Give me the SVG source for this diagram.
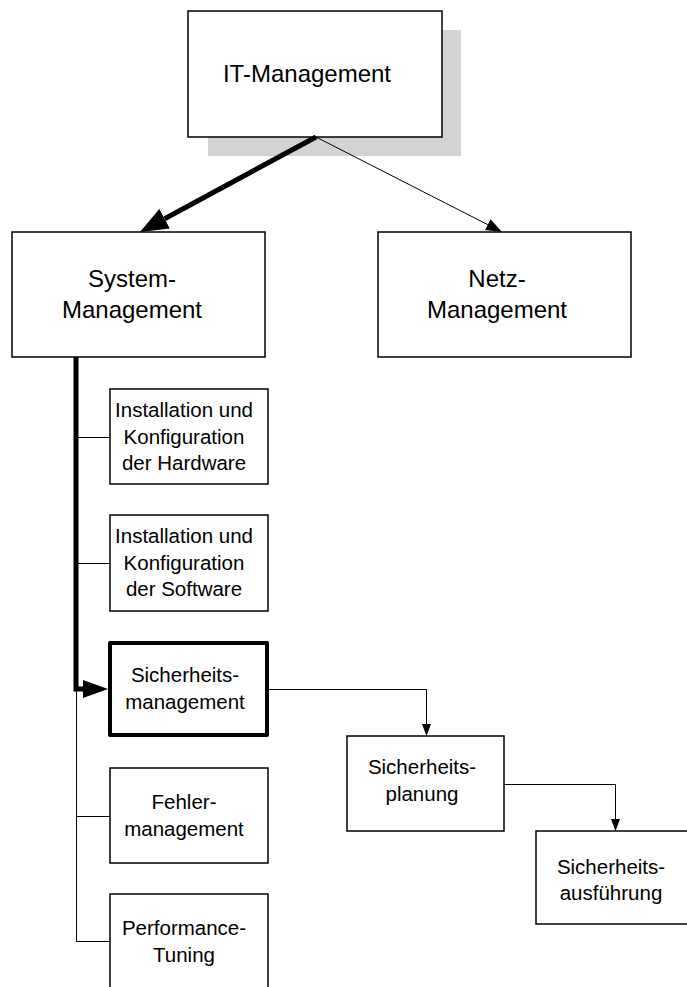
<svg xmlns="http://www.w3.org/2000/svg" width="687" height="987" viewBox="0 0 687 987">
  <style>
    .box { fill: #fff; stroke: #000; stroke-width: 1.5; }
    .bold { fill: #fff; stroke: #000; stroke-width: 4; stroke-linejoin: round; }
    .shadow { fill: #d3d3d3; stroke: none; }
    .lbl { font-family: "Liberation Sans", Arial, sans-serif; font-size: 20.5px; fill: #000; text-anchor: middle; }
    .big { font-size: 24px; }
    .thin { fill: none; stroke: #000; stroke-width: 1; }
    .thick { fill: none; stroke: #000; stroke-width: 5; stroke-linejoin: miter; }
  </style>
  <defs>
    <marker id="headL" markerUnits="userSpaceOnUse" viewBox="0 -12 28 24" refX="0" refY="0" markerWidth="28" markerHeight="24" orient="auto">
      <path d="M0,-11 L28,0 L0,11 z" fill="#000"/>
    </marker>
    <marker id="headM" markerUnits="userSpaceOnUse" viewBox="0 -10 26 20" refX="0" refY="0" markerWidth="26" markerHeight="20" orient="auto">
      <path d="M0,-9 L25,0 L0,9 z" fill="#000"/>
    </marker>
    <marker id="headS" markerUnits="userSpaceOnUse" viewBox="0 -7 17 14" refX="0" refY="0" markerWidth="17" markerHeight="14" orient="auto">
      <path d="M0,-6 L16,0 L0,6 z" fill="#000"/>
    </marker>
    <marker id="headT" markerUnits="userSpaceOnUse" viewBox="0 -5 13 10" refX="0" refY="0" markerWidth="13" markerHeight="10" orient="auto">
      <path d="M0,-4.5 L12,0 L0,4.5 z" fill="#000"/>
    </marker>
  </defs>

  <g id="it-management">
    <rect class="shadow" x="208" y="30" width="253" height="126"/>
    <rect class="box" x="188" y="11" width="254" height="126"/>
    <text class="lbl big" x="307" y="82">IT-Management</text>
  </g>

  <g id="system-management">
    <rect class="box" x="12" y="232" width="253" height="125"/>
    <text class="lbl big" x="132" y="287">System-</text>
    <text class="lbl big" x="132" y="318">Management</text>
  </g>

  <g id="netz-management">
    <rect class="box" x="378" y="232" width="253" height="125"/>
    <text class="lbl big" x="497" y="287">Netz-</text>
    <text class="lbl big" x="497" y="318">Management</text>
  </g>

  <g id="hardware">
    <rect class="box" x="110" y="389" width="158" height="95"/>
    <text class="lbl" x="184" y="417">Installation und</text>
    <text class="lbl" x="184" y="444">Konfiguration</text>
    <text class="lbl" x="184" y="470">der Hardware</text>
  </g>

  <g id="software">
    <rect class="box" x="110" y="515" width="158" height="96"/>
    <text class="lbl" x="184" y="543">Installation und</text>
    <text class="lbl" x="184" y="570">Konfiguration</text>
    <text class="lbl" x="184" y="596">der Software</text>
  </g>

  <g id="sicherheitsmanagement">
    <rect class="bold" x="110" y="643" width="157" height="92"/>
    <text class="lbl" x="185" y="682">Sicherheits-</text>
    <text class="lbl" x="185" y="709">management</text>
  </g>

  <g id="fehlermanagement">
    <rect class="box" x="110" y="768" width="158" height="95"/>
    <text class="lbl" x="184" y="809">Fehler-</text>
    <text class="lbl" x="184" y="836">management</text>
  </g>

  <g id="performance-tuning">
    <rect class="box" x="110" y="894" width="158" height="96"/>
    <text class="lbl" x="184" y="935">Performance-</text>
    <text class="lbl" x="184" y="962">Tuning</text>
  </g>

  <g id="sicherheitsplanung">
    <rect class="box" x="347" y="736" width="157" height="95"/>
    <text class="lbl" x="422" y="774">Sicherheits-</text>
    <text class="lbl" x="422" y="801">planung</text>
  </g>

  <g id="sicherheitsausfuehrung">
    <rect class="box" x="536" y="831" width="158" height="93"/>
    <text class="lbl" x="611" y="874">Sicherheits-</text>
    <text class="lbl" x="611" y="900">ausführung</text>
  </g>

  <!-- connectors, drawn above the node shadow -->
  <g id="connectors">
    <!-- IT-Management to System-Management (highlighted path) -->
    <path class="thick" d="M316,137 L164.6,218.7" marker-end="url(#headL)"/>
    <!-- IT-Management to Netz-Management -->
    <path class="thin" d="M316,137 L487.8,224.7" marker-end="url(#headS)"/>
    <!-- highlighted trunk down to Sicherheitsmanagement -->
    <path class="thick" d="M76,357 L76,689 L83,689" marker-end="url(#headM)"/>
    <!-- thin trunk for remaining tasks -->
    <path class="thin" d="M76.5,689 L76.5,941.5 L110,941.5"/>
    <path class="thin" d="M76,437.5 L110,437.5"/>
    <path class="thin" d="M76,563.5 L110,563.5"/>
    <path class="thin" d="M76,816.5 L110,816.5"/>
    <!-- security chain -->
    <path class="thin" d="M269,689.5 L426.5,689.5 L426.5,724" marker-end="url(#headT)"/>
    <path class="thin" d="M504,784.5 L615.5,784.5 L615.5,819" marker-end="url(#headT)"/>
  </g>
</svg>
